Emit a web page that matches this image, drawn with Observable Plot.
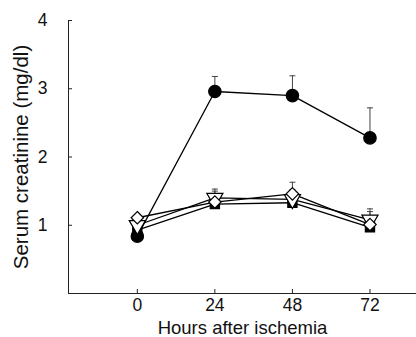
<!DOCTYPE html>
<html>
<head>
<meta charset="utf-8">
<script src="https://cdn.jsdelivr.net/npm/d3@7"></script>
<script src="https://cdn.jsdelivr.net/npm/@observablehq/plot@0.6"></script>
<style>
  html, body { margin: 0; padding: 0; background: #fff; }
  svg { display: block; }
</style>
</head>
<body>
<div id="chart"></div>
<script>
const hours = [0, 24, 48, 72];
const yTicks = [1, 2, 3, 4];
const xTicks = [0, 24, 48, 72];

// series values (mg/dl)
const circleVals   = [0.84, 2.96, 2.90, 2.28];
const circleErr    = [null, 3.18, 3.19, 2.72];
const squareVals   = [0.93, 1.31, 1.33, 0.97];
const squareErr    = [null, null, null, null];
const triangleVals = [1.00, 1.40, 1.38, 1.08];
const triangleErr  = [null, 1.53, 1.52, 1.24];
const diamondVals  = [1.11, 1.34, 1.46, 1.01];
const diamondErr   = [null, 1.50, 1.63, 1.20];

const seriesDefs = [
  {name: "square", vals: squareVals, err: squareErr, symbol: "square", fill: "black", r: 5.2, rotate: 0},
  {name: "circle", vals: circleVals, err: circleErr, symbol: "circle", fill: "black", r: 6.2, rotate: 0},
  {name: "triangle", vals: triangleVals, err: triangleErr, symbol: "triangle", fill: "white", r: 6.0, rotate: 180},
  {name: "diamond", vals: diamondVals, err: diamondErr, symbol: "diamond2", fill: "white", r: 5.6, rotate: 0}
];

const rows = seriesDefs.flatMap(s => hours.map((h, i) => ({series: s.name, h, v: s.vals[i], e: s.err[i]})));
const errRows = rows.filter(d => d.e != null);

const capSymbol = {
  draw(context, size) {
    const w = 3;
    context.moveTo(-w, 0);
    context.lineTo(w, 0);
  }
};

const marks = [
  Plot.frame({anchor: "left", stroke: "#222"}),
  Plot.frame({anchor: "bottom", stroke: "#222"}),
  Plot.axisY(yTicks, {tickSize: -4, tickPadding: 25, fontSize: 17.5, tickFormat: d => String(d), label: null, stroke: "#222"}),
  Plot.axisX(xTicks, {tickSize: -4, tickPadding: 9, fontSize: 17.5, tickFormat: d => String(d), label: null, stroke: "#222"}),
  Plot.text(["Serum creatinine (mg/dl)"], {frameAnchor: "left", rotate: -90, dx: -47, textAnchor: "middle", lineAnchor: "middle", fontSize: 20.5, fill: "#111"}),
  Plot.text(["Hours after ischemia"], {frameAnchor: "bottom", dy: 35, textAnchor: "middle", lineAnchor: "middle", fontSize: 18.5, fill: "#111"}),
  Plot.ruleX(errRows, {x: "h", y1: "v", y2: "e", stroke: "#444", strokeWidth: 1}),
  Plot.dot(errRows, {x: "h", y: "e", symbol: capSymbol, stroke: "#444", strokeWidth: 1, r: 3})
];
for (const s of seriesDefs) {
  const data = rows.filter(d => d.series === s.name);
  marks.push(Plot.line(data, {x: "h", y: "v", stroke: "black", strokeWidth: 1.3}));
}
for (const s of seriesDefs) {
  const data = rows.filter(d => d.series === s.name);
  marks.push(Plot.dot(data, {x: "h", y: "v", symbol: s.symbol, r: s.r, fill: s.fill, stroke: "black", strokeWidth: 1.2, rotate: s.rotate}));
}

const chart = Plot.plot({
  width: 416,
  height: 337,
  marginLeft: 68,
  marginRight: 0,
  marginTop: 20,
  marginBottom: 44,
  style: {fontFamily: "Liberation Sans, Arial, sans-serif", fontSize: "17px", color: "#111", background: "white"},
  x: {domain: [-21.3, 86.4], axis: null},
  y: {domain: [0, 4], axis: null},
  marks
});
document.getElementById("chart").appendChild(chart);
</script>
</body>
</html>
